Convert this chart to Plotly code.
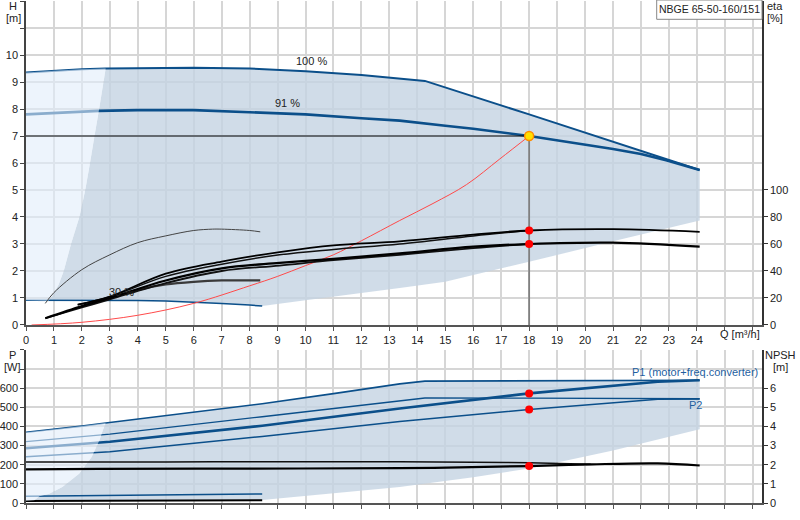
import plotly.graph_objects as go
from plotly.subplots import make_subplots

# ---------------- top chart: head curves (H [m]) ----------------
q_100 = [0, 1, 2, 2.85, 4, 6, 8, 9, 10, 12, 13.37, 14.27, 18, 21, 24.1]
h_100 = [9.35, 9.42, 9.47, 9.5, 9.52, 9.53, 9.5, 9.46, 9.4, 9.26, 9.13, 9.04, 7.8, 6.8, 5.74]

q_91 = [0, 1, 2, 2.6, 4, 6, 8, 9, 10, 12, 13.37, 15, 16, 18, 21, 22, 22.9, 24.1]
h_91 = [7.8, 7.85, 7.9, 7.93, 7.96, 7.96, 7.88, 7.85, 7.8, 7.66, 7.57, 7.38, 7.27, 7.0, 6.52, 6.33, 6.1, 5.74]

q_30 = [0, 1, 2, 3, 4, 5, 6, 7, 8, 8.45]
h_30 = [0.92, 0.92, 0.92, 0.92, 0.91, 0.89, 0.85, 0.8, 0.74, 0.7]

# boundary between light (left) zone and the shaded operating range
edge_q = [2.85, 2.6, 2.45, 2.29, 2.12, 1.91, 1.61, 1.35, 1.17, 0.95, 0.8]
edge_h = [9.5, 7.9, 7.0, 6.0, 5.0, 4.0, 3.0, 2.0, 1.5, 1.1, 0.9]
# lower edge of the shaded range
floor_q = [24.1, 21, 18, 16, 15, 13.37, 10, 8.45]
floor_h = [3.87, 3.1, 2.34, 1.85, 1.6, 1.37, 0.92, 0.7]

# system curve
sys_q = [0.2, 2, 4, 6, 8, 9, 10, 11, 12, 13.37, 14.56, 15.76, 16.95, 18]
sys_h = [0, 0.1, 0.36, 0.8, 1.45, 1.8, 2.2, 2.6, 3.12, 3.87, 4.5, 5.2, 6.15, 7.0]

duty_q = 18
duty_h = 7

# ---------------- efficiency curves (eta [%]) ----------------
eta1_q = [1.85, 3, 5, 7, 9.07, 11, 13.37, 16, 18, 21, 24.1]
eta1 = [15, 21, 38, 47, 54, 59, 62, 67, 70, 71, 69]
eta2_q = [1.85, 3, 5, 7, 9.07, 11, 13.37, 16, 18]
eta2 = [15, 21, 36, 45, 52, 56, 60, 66, 70]
eta3_q = [0.69, 2, 3, 5, 7, 9.07, 11, 13.37, 16, 18, 21, 24.1]
eta3 = [5, 14, 20, 33, 42, 46, 49, 53, 58, 60, 61, 58]
eta4_q = [0.69, 2, 3, 5, 7, 9.07, 11, 13.37, 16, 18]
eta4 = [5, 13, 19, 31, 40, 44, 48, 52, 57, 60]
eta5_q = [3, 4, 5, 6, 7, 8.38]
eta5 = [20, 26, 30, 32, 33, 33]
eta6_q = [0.69, 1, 2, 3, 4, 5, 6, 6.67, 7, 8, 8.38]
eta6 = [16, 24, 41, 52, 61, 66, 70, 71, 71, 70, 69]
duty_eta = [70, 60]

# ---------------- bottom chart: power (P [W]) ----------------
p1_q = [0, 1, 2, 2.85, 5, 8.45, 11, 13.37, 14.27, 18, 24.1]
p1 = [370, 385, 402, 418, 458, 519, 572, 623, 637, 640, 642]
p2_q = [0, 3, 8.45, 13.37, 14.27, 18, 24.1]
p2 = [321, 360, 451, 534, 549, 548, 545]
p3_q = [0, 3, 8.45, 13.37, 18, 22.6, 24.1]
p3 = [286, 320, 404, 494, 573, 634, 642]
p4_q = [0, 3, 8.45, 13.37, 18, 22.6, 24.1]
p4 = [242, 268, 348, 426, 489, 543, 544]
p30_q = [0, 8.45]
p30_blue = [35, 47]
p30_black = [10, 15]
duty_p = [573, 489]

pedge_q = [2.85, 2.75, 2.63, 2.35, 1.91, 1.3, 0.83, 0.48, 0.3]
pedge_p = [418, 380, 329, 241, 154, 84, 49, 35, 14]
pfloor_q = [24.1, 21, 18, 16, 13.37, 8.45]
pfloor_p = [386, 275, 181, 135, 84, 16]

# NPSH [m]
npsh1_q = [0, 5, 10, 13.37, 16, 18, 20.2]
npsh1 = [2.14, 2.15, 2.16, 2.16, 2.13, 2.1, 2.03]
npsh2_q = [0, 2.6, 8, 13.37, 18, 20.2, 22.6, 24.1]
npsh2 = [1.76, 1.78, 1.8, 1.82, 1.93, 2.02, 2.07, 1.96]
duty_npsh = 1.93

x_ticks = list(range(0, 27))
x_text = [str(v) for v in range(0, 25)] + ['', '']

BLUE = '#0b4f8a'
GRAY_FILL = 'rgba(196,211,226,0.8)'
LIGHT_FILL = 'rgba(225,237,250,0.6)'
FONT = 'Liberation Sans, Arial, sans-serif'


def px_x(px):
    return (px - 26) / 736


def px_y(py):
    return (503 - py) / 502


def line(q, v, color, width, shape='linear'):
    return go.Scatter(x=q, y=v, mode='lines', line=dict(color=color, width=width, shape=shape),
                      hoverinfo='skip', showlegend=False)


def build_chart():
    fig = make_subplots(rows=2, cols=1, specs=[[{"secondary_y": True}], [{"secondary_y": True}]])

    # shaded operating range (top)
    i_edge = q_100.index(2.85)
    gq = edge_q[::-1] + q_100[i_edge:] + floor_q + [q for q in q_30[::-1] if 0.8 < q < 8.45]
    gh = edge_h[::-1] + h_100[i_edge:] + floor_h + [h for q, h in zip(q_30[::-1], h_30[::-1]) if 0.8 < q < 8.45]
    fig.add_trace(go.Scatter(x=gq, y=gh, fill='toself', fillcolor=GRAY_FILL, mode='none',
                             hoverinfo='skip', showlegend=False), row=1, col=1)

    fig.add_trace(line(q_100, h_100, BLUE, 2), row=1, col=1)
    fig.add_trace(line(q_91, h_91, BLUE, 2.6), row=1, col=1)
    fig.add_trace(line(q_30, h_30, BLUE, 1.5), row=1, col=1)

    # efficiency curves
    fig.add_trace(line(eta6_q, eta6, '#444444', 1, 'spline'), row=1, col=1, secondary_y=True)
    fig.add_trace(line(eta5_q, eta5, '#3a3a3a', 2.2, 'spline'), row=1, col=1, secondary_y=True)
    fig.add_trace(line(eta2_q, eta2, '#111111', 1.5, 'spline'), row=1, col=1, secondary_y=True)
    fig.add_trace(line(eta1_q, eta1, '#000000', 1.8, 'spline'), row=1, col=1, secondary_y=True)
    fig.add_trace(line(eta4_q, eta4, '#111111', 1.8, 'spline'), row=1, col=1, secondary_y=True)
    fig.add_trace(line(eta3_q, eta3, '#000000', 2.2, 'spline'), row=1, col=1, secondary_y=True)

    # system curve
    fig.add_trace(line(sys_q, sys_h, '#ff4a4a', 1, 'spline'), row=1, col=1)

    # light zone on the left (drawn over the curves, lightens them)
    lq = q_100[:i_edge + 1] + edge_q + [0]
    lh = h_100[:i_edge + 1] + edge_h + [h_30[0]]
    fig.add_trace(go.Scatter(x=lq, y=lh, fill='toself', fillcolor=LIGHT_FILL, mode='none',
                             hoverinfo='skip', showlegend=False), row=1, col=1)

    # duty point guides
    fig.add_trace(line([0, duty_q], [duty_h, duty_h], '#000000', 1.2), row=1, col=1)
    fig.add_trace(line([duty_q, duty_q], [0, duty_h], '#808080', 1.8), row=1, col=1)

    fig.add_trace(go.Scatter(x=[duty_q, duty_q], y=duty_eta, mode='markers',
                             marker=dict(color='#ff0000', size=8), hoverinfo='skip', showlegend=False),
                  row=1, col=1, secondary_y=True)
    fig.add_trace(go.Scatter(x=[duty_q], y=[duty_h], mode='markers',
                             marker=dict(color='#ffe000', size=9, line=dict(color='#ff8c00', width=1.5)),
                             hoverinfo='skip', showlegend=False), row=1, col=1)

    # ---- bottom chart ----
    i_p = p1_q.index(2.85)
    bq = pedge_q[::-1] + p1_q[i_p:] + pfloor_q
    bp = pedge_p[::-1] + p1[i_p:] + pfloor_p
    fig.add_trace(go.Scatter(x=bq, y=bp, fill='toself', fillcolor=GRAY_FILL, mode='none',
                             hoverinfo='skip', showlegend=False), row=2, col=1)

    fig.add_trace(line(p1_q, p1, BLUE, 1.6), row=2, col=1)
    fig.add_trace(line(p2_q, p2, BLUE, 1.3), row=2, col=1)
    fig.add_trace(line(p3_q, p3, BLUE, 2.6), row=2, col=1)
    fig.add_trace(line(p4_q, p4, BLUE, 1.5), row=2, col=1)
    fig.add_trace(line(p30_q, p30_blue, BLUE, 1.5), row=2, col=1)
    fig.add_trace(line(p30_q, p30_black, '#000000', 2), row=2, col=1)

    fig.add_trace(line(npsh1_q, npsh1, '#111111', 1.5, 'spline'), row=2, col=1, secondary_y=True)
    fig.add_trace(line(npsh2_q, npsh2, '#000000', 2.2, 'spline'), row=2, col=1, secondary_y=True)

    lpq = p1_q[:i_p + 1] + pedge_q + [0]
    lpp = p1[:i_p + 1] + pedge_p + [p30_black[0]]
    fig.add_trace(go.Scatter(x=lpq, y=lpp, fill='toself', fillcolor=LIGHT_FILL, mode='none',
                             hoverinfo='skip', showlegend=False), row=2, col=1)

    fig.add_trace(go.Scatter(x=[duty_q, duty_q], y=duty_p, mode='markers',
                             marker=dict(color='#ff0000', size=8), hoverinfo='skip', showlegend=False),
                  row=2, col=1)
    fig.add_trace(go.Scatter(x=[duty_q], y=[duty_npsh], mode='markers',
                             marker=dict(color='#ff0000', size=8), hoverinfo='skip', showlegend=False),
                  row=2, col=1, secondary_y=True)

    # ---- axes ----
    common_x = dict(domain=[0, 1], range=[0, 26.33], tickvals=x_ticks, ticktext=x_text, showgrid=True,
                    gridcolor='#d6d6d6', gridwidth=1.5, zeroline=False, showline=True,
                    linecolor='#555555', linewidth=2, ticks='outside', ticklen=4, tickcolor='#555555')
    fig.update_xaxes(**common_x)
    fig.update_xaxes(showticklabels=False, row=2, col=1)

    common_y = dict(showgrid=True, gridcolor='#d6d6d6', gridwidth=1.5, zeroline=False, showline=True,
                    linecolor='#444444', linewidth=1.5, ticks='outside', ticklen=4, tickcolor='#444444')
    fig.update_layout(
        yaxis=dict(domain=[0.3546, 1], range=[0, 12], tickvals=list(range(13)),
                   ticktext=[str(v) for v in range(11)] + ['', ''], **common_y),
        yaxis2=dict(range=[0, 240], tickvals=[0, 20, 40, 60, 80, 100], showgrid=False, zeroline=False,
                    showline=True, linecolor='#333333', linewidth=1.5, ticks='outside', ticklen=4,
                    tickcolor='#333333'),
        yaxis3=dict(domain=[0, 0.3048], range=[0, 800], tickvals=list(range(0, 801, 100)),
                    ticktext=[str(v) for v in range(0, 601, 100)] + ['', ''], **common_y),
        yaxis4=dict(range=[0, 8], tickvals=[0, 1, 2, 3, 4, 5, 6], showgrid=False, zeroline=False,
                    showline=True, linecolor='#333333', linewidth=1.5, ticks='outside', ticklen=4,
                    tickcolor='#333333'),
    )

    # ---- labels ----
    ann = []
    txt = dict(size=11, color='#222222', family=FONT)
    for text, x, y in [('H', 13, 6), ('[m]', 13, 18), ('eta', 775, 6), ('[%]', 775, 18),
                       ('P', 12, 355), ('[W]', 12.5, 367), ('NPSH', 780, 355), ('[m]', 780, 367),
                       ('Q [m³/h]', 740, 334)]:
        ann.append(dict(text=text, x=px_x(x), y=px_y(y), xref='paper', yref='paper',
                        showarrow=False, xanchor='center', yanchor='middle', font=txt))
    for text, x, y in [('P1 (motor+freq.converter)', 695, 372), ('P2', 695.5, 405)]:
        ann.append(dict(text=text, x=px_x(x), y=px_y(y), xref='paper', yref='paper',
                        showarrow=False, xanchor='center', yanchor='middle',
                        font=dict(size=11, color='#1f5f9f', family=FONT)))
    for text, x, y in [('100 %', 10.2, 9.77), ('91 %', 9.35, 8.22), ('30 %', 3.4, 1.23)]:
        ann.append(dict(text=text, x=x, y=y, xref='x', yref='y', showarrow=False,
                        xanchor='center', yanchor='middle', font=txt))
    ann.append(dict(text='NBGE 65-50-160/151', x=px_x(709), y=px_y(9.5), xref='paper', yref='paper',
                    showarrow=False, xanchor='center', yanchor='middle',
                    font=dict(size=10.5, color='#222222', family=FONT)))

    fig.update_layout(
        width=800, height=520,
        margin=dict(l=26, r=38, t=1, b=17),
        paper_bgcolor='white', plot_bgcolor='white',
        font=dict(family=FONT, size=11, color='#222222'),
        showlegend=False,
        annotations=ann,
        shapes=[dict(type='rect', xref='paper', yref='paper', x0=px_x(656.7), x1=1.0,
                     y0=px_y(19.3), y1=px_y(0), line=dict(color='#888888', width=1),
                     fillcolor='white', layer='above')],
    )
    return fig


if __name__ == "__main__":
    fig = build_chart()
    # page margin would offset the 800x520 figure inside the window
    fig.write_html("out.html", config={'displayModeBar': False},
                   post_script="document.body.style.margin='0';")
